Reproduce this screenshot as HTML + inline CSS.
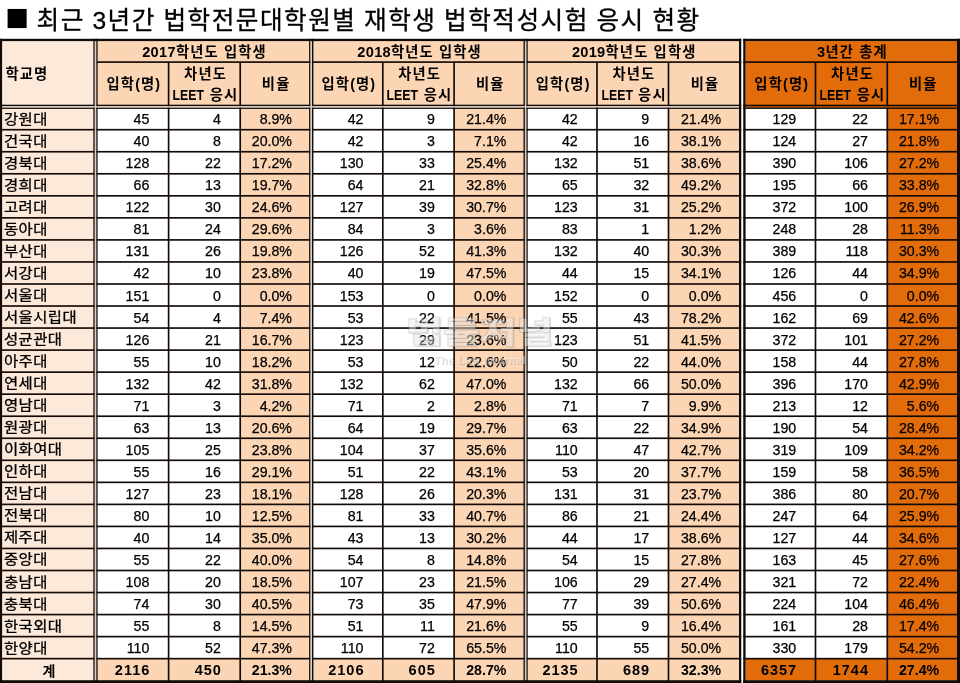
<!DOCTYPE html>
<html lang="ko"><head><meta charset="utf-8"><title>법학전문대학원별 재학생 법학적성시험 응시 현황</title>
<style>
html,body{margin:0;padding:0;background:#fff}
body{width:960px;height:683px;position:relative;overflow:hidden;font-family:"Liberation Sans","Noto Sans CJK KR",sans-serif;color:#000}
svg{position:absolute;left:0;top:0}
div{position:absolute;white-space:nowrap;box-sizing:border-box}
.title{-webkit-text-stroke:0.3px #000;font-size:24.6px;line-height:32px;height:32px;color:#000;letter-spacing:1.5px;word-spacing:-0.7px}
.sq{font-size:25px;line-height:32px;height:32px;color:#000;font-family:"DejaVu Sans",sans-serif}
.h{display:flex;align-items:center;justify-content:center;text-align:center;font-weight:bold;font-size:14.3px;line-height:21.2px;color:#000;letter-spacing:1.15px}
.h i{font-style:normal;letter-spacing:0;display:inline-block;transform:scaleX(0.86);margin:0 -2.4px}
.h b{font-size:14.6px;letter-spacing:0.3px}
.h span{display:block;position:relative;top:1.1px;left:1.2px}
.h1 span{top:0.6px}
.hl{justify-content:flex-start;padding-left:2.2px}
.hl span{top:1.0px}
.n{font-size:14.0px;line-height:22px;height:22px;color:#000;-webkit-text-stroke:0.3px #000;letter-spacing:0.4px;font-weight:400}
.n:not(.c){transform:scaleX(1.1);transform-origin:0 50%}
.c{text-align:center;margin-left:1.2px;margin-top:1.6px}
.d{font-size:14.2px;line-height:22px;height:22px;text-align:right;margin-top:0.5px;-webkit-text-stroke:0.25px #000}
.b{font-weight:bold;color:#000;-webkit-text-stroke:0}
.bn{letter-spacing:1.0px;font-size:14.5px}
.wm{left:405px;top:312px;width:150px;text-align:center;font-weight:900;font-size:30px;line-height:42px;letter-spacing:0;transform:scaleX(1.33);transform-origin:50% 50%;color:rgba(255,255,255,.4);-webkit-text-stroke:1.6px rgba(105,105,105,.2);paint-order:stroke fill;text-shadow:1px 1px 1px rgba(100,100,100,.12)}
.wm2{left:405px;top:353px;width:150px;text-align:center;font-weight:bold;font-size:10.5px;line-height:14px;letter-spacing:.6px;color:rgba(255,255,255,.4);text-shadow:1px 1px 0 rgba(100,100,100,.25)}
</style></head><body>
<svg width="960" height="683" viewBox="0 0 960 683" shape-rendering="auto">
<rect x="2.10" y="41.10" width="91.95" height="639.10" fill="#fde9d9"/>
<rect x="94.05" y="41.10" width="2.85" height="639.10" fill="#d6ccc4"/>
<rect x="309.80" y="41.10" width="2.90" height="639.10" fill="#d6ccc4"/>
<rect x="524.20" y="41.10" width="2.80" height="639.10" fill="#d6ccc4"/>
<rect x="96.90" y="41.10" width="212.90" height="64.30" fill="#fcd5b4"/>
<rect x="240.20" y="108.20" width="69.60" height="572.00" fill="#fcd5b4"/>
<rect x="96.90" y="658.66" width="212.90" height="21.54" fill="#fcd5b4"/>
<rect x="312.70" y="41.10" width="211.50" height="64.30" fill="#fcd5b4"/>
<rect x="454.10" y="108.20" width="70.10" height="572.00" fill="#fcd5b4"/>
<rect x="312.70" y="658.66" width="211.50" height="21.54" fill="#fcd5b4"/>
<rect x="527.00" y="41.10" width="212.00" height="64.30" fill="#fcd5b4"/>
<rect x="668.50" y="108.20" width="70.50" height="572.00" fill="#fcd5b4"/>
<rect x="527.00" y="658.66" width="212.00" height="21.54" fill="#fcd5b4"/>
<rect x="745.60" y="41.10" width="211.40" height="64.30" fill="#e26b0a"/>
<rect x="887.30" y="108.20" width="69.70" height="572.00" fill="#e26b0a"/>
<rect x="745.60" y="658.66" width="211.40" height="21.54" fill="#e26b0a"/>
<rect x="2.10" y="105.40" width="736.90" height="2.80" fill="#d6ccc4"/>
<rect x="745.60" y="105.40" width="211.40" height="2.80" fill="#9a4a12"/>
<rect x="0.00" y="128.88" width="741.25" height="1.65" fill="#120a06"/>
<rect x="743.25" y="128.88" width="216.75" height="1.65" fill="#120a06"/>
<rect x="0.00" y="150.92" width="741.25" height="1.65" fill="#120a06"/>
<rect x="743.25" y="150.92" width="216.75" height="1.65" fill="#120a06"/>
<rect x="0.00" y="172.96" width="741.25" height="1.65" fill="#120a06"/>
<rect x="743.25" y="172.96" width="216.75" height="1.65" fill="#120a06"/>
<rect x="0.00" y="195.00" width="741.25" height="1.65" fill="#120a06"/>
<rect x="743.25" y="195.00" width="216.75" height="1.65" fill="#120a06"/>
<rect x="0.00" y="217.03" width="741.25" height="1.65" fill="#120a06"/>
<rect x="743.25" y="217.03" width="216.75" height="1.65" fill="#120a06"/>
<rect x="0.00" y="239.08" width="741.25" height="1.65" fill="#120a06"/>
<rect x="743.25" y="239.08" width="216.75" height="1.65" fill="#120a06"/>
<rect x="0.00" y="261.12" width="741.25" height="1.65" fill="#120a06"/>
<rect x="743.25" y="261.12" width="216.75" height="1.65" fill="#120a06"/>
<rect x="0.00" y="283.16" width="741.25" height="1.65" fill="#120a06"/>
<rect x="743.25" y="283.16" width="216.75" height="1.65" fill="#120a06"/>
<rect x="0.00" y="305.19" width="741.25" height="1.65" fill="#120a06"/>
<rect x="743.25" y="305.19" width="216.75" height="1.65" fill="#120a06"/>
<rect x="0.00" y="327.23" width="741.25" height="1.65" fill="#120a06"/>
<rect x="743.25" y="327.23" width="216.75" height="1.65" fill="#120a06"/>
<rect x="0.00" y="349.28" width="741.25" height="1.65" fill="#120a06"/>
<rect x="743.25" y="349.28" width="216.75" height="1.65" fill="#120a06"/>
<rect x="0.00" y="371.31" width="741.25" height="1.65" fill="#120a06"/>
<rect x="743.25" y="371.31" width="216.75" height="1.65" fill="#120a06"/>
<rect x="0.00" y="393.35" width="741.25" height="1.65" fill="#120a06"/>
<rect x="743.25" y="393.35" width="216.75" height="1.65" fill="#120a06"/>
<rect x="0.00" y="415.40" width="741.25" height="1.65" fill="#120a06"/>
<rect x="743.25" y="415.40" width="216.75" height="1.65" fill="#120a06"/>
<rect x="0.00" y="437.44" width="741.25" height="1.65" fill="#120a06"/>
<rect x="743.25" y="437.44" width="216.75" height="1.65" fill="#120a06"/>
<rect x="0.00" y="459.47" width="741.25" height="1.65" fill="#120a06"/>
<rect x="743.25" y="459.47" width="216.75" height="1.65" fill="#120a06"/>
<rect x="0.00" y="481.52" width="741.25" height="1.65" fill="#120a06"/>
<rect x="743.25" y="481.52" width="216.75" height="1.65" fill="#120a06"/>
<rect x="0.00" y="503.56" width="741.25" height="1.65" fill="#120a06"/>
<rect x="743.25" y="503.56" width="216.75" height="1.65" fill="#120a06"/>
<rect x="0.00" y="525.59" width="741.25" height="1.65" fill="#120a06"/>
<rect x="743.25" y="525.59" width="216.75" height="1.65" fill="#120a06"/>
<rect x="0.00" y="547.63" width="741.25" height="1.65" fill="#120a06"/>
<rect x="743.25" y="547.63" width="216.75" height="1.65" fill="#120a06"/>
<rect x="0.00" y="569.67" width="741.25" height="1.65" fill="#120a06"/>
<rect x="743.25" y="569.67" width="216.75" height="1.65" fill="#120a06"/>
<rect x="0.00" y="591.71" width="741.25" height="1.65" fill="#120a06"/>
<rect x="743.25" y="591.71" width="216.75" height="1.65" fill="#120a06"/>
<rect x="0.00" y="613.75" width="741.25" height="1.65" fill="#120a06"/>
<rect x="743.25" y="613.75" width="216.75" height="1.65" fill="#120a06"/>
<rect x="0.00" y="635.79" width="741.25" height="1.65" fill="#120a06"/>
<rect x="743.25" y="635.79" width="216.75" height="1.65" fill="#120a06"/>
<rect x="0.00" y="657.83" width="741.25" height="1.65" fill="#120a06"/>
<rect x="743.25" y="657.83" width="216.75" height="1.65" fill="#120a06"/>
<rect x="0.00" y="104.70" width="741.25" height="1.40" fill="#120a06"/>
<rect x="743.25" y="104.70" width="216.75" height="1.40" fill="#120a06"/>
<rect x="0.00" y="107.50" width="741.25" height="1.40" fill="#120a06"/>
<rect x="743.25" y="107.50" width="216.75" height="1.40" fill="#120a06"/>
<rect x="96.90" y="61.27" width="644.35" height="1.65" fill="#120a06"/>
<rect x="743.25" y="61.27" width="216.75" height="1.65" fill="#120a06"/>
<rect x="167.78" y="62.10" width="1.65" height="620.90" fill="#120a06"/>
<rect x="239.38" y="62.10" width="1.65" height="620.90" fill="#120a06"/>
<rect x="381.98" y="62.10" width="1.65" height="620.90" fill="#120a06"/>
<rect x="453.28" y="62.10" width="1.65" height="620.90" fill="#120a06"/>
<rect x="596.17" y="62.10" width="1.65" height="620.90" fill="#120a06"/>
<rect x="667.67" y="62.10" width="1.65" height="620.90" fill="#120a06"/>
<rect x="814.67" y="62.10" width="1.65" height="620.90" fill="#120a06"/>
<rect x="886.47" y="62.10" width="1.65" height="620.90" fill="#120a06"/>
<rect x="93.35" y="38.80" width="1.40" height="644.20" fill="#120a06"/>
<rect x="96.20" y="38.80" width="1.40" height="644.20" fill="#120a06"/>
<rect x="309.10" y="38.80" width="1.40" height="644.20" fill="#120a06"/>
<rect x="312.00" y="38.80" width="1.40" height="644.20" fill="#120a06"/>
<rect x="523.50" y="38.80" width="1.40" height="644.20" fill="#120a06"/>
<rect x="526.30" y="38.80" width="1.40" height="644.20" fill="#120a06"/>
<rect x="94.75" y="41.10" width="1.45" height="639.10" fill="#d6ccc4"/>
<rect x="310.50" y="41.10" width="1.50" height="639.10" fill="#d6ccc4"/>
<rect x="524.90" y="41.10" width="1.40" height="639.10" fill="#d6ccc4"/>
<rect x="2.10" y="106.10" width="736.90" height="1.40" fill="#d6ccc4"/>
<rect x="745.60" y="106.10" width="211.40" height="1.40" fill="#9a4a12"/>
<rect x="0.00" y="38.80" width="2.10" height="644.20" fill="#120a06"/>
<rect x="739.00" y="38.80" width="2.25" height="644.20" fill="#120a06"/>
<rect x="743.25" y="38.80" width="2.35" height="644.20" fill="#120a06"/>
<rect x="957.00" y="38.80" width="3.00" height="644.20" fill="#120a06"/>
<rect x="0.00" y="38.80" width="741.25" height="2.30" fill="#120a06"/>
<rect x="743.25" y="38.80" width="216.75" height="2.30" fill="#120a06"/>
<rect x="0.00" y="680.20" width="741.25" height="2.80" fill="#120a06"/>
<rect x="743.25" y="680.20" width="216.75" height="2.80" fill="#120a06"/>
</svg>
<div class="sq" style="left:5.5px;top:1.0px">■</div>
<div class="title" style="left:36.5px;top:4.7px">최근 3년간 법학전문대학원별 재학생 법학적성시험 응시 현황</div>
<div class="h hl" style="left:2.1px;top:41.1px;width:91.95px;height:64.30000000000001px"><span>학교명</span></div>
<div class="h h1" style="left:96.9px;top:41.1px;width:212.90px;height:21.00px"><span><b>2017</b>학년도 입학생</span></div>
<div class="h" style="left:96.9px;top:62.1px;width:71.70px;height:43.30px"><span>입학(명)</span></div>
<div class="h h2" style="left:168.6px;top:62.1px;width:71.60px;height:43.30px"><span>차년도<br><i>LEET</i> 응시</span></div>
<div class="h" style="left:240.2px;top:62.1px;width:69.60px;height:43.30px"><span>비율</span></div>
<div class="h h1" style="left:312.7px;top:41.1px;width:211.50px;height:21.00px"><span><b>2018</b>학년도 입학생</span></div>
<div class="h" style="left:312.7px;top:62.1px;width:70.10px;height:43.30px"><span>입학(명)</span></div>
<div class="h h2" style="left:382.8px;top:62.1px;width:71.30px;height:43.30px"><span>차년도<br><i>LEET</i> 응시</span></div>
<div class="h" style="left:454.1px;top:62.1px;width:70.10px;height:43.30px"><span>비율</span></div>
<div class="h h1" style="left:527.0px;top:41.1px;width:212.00px;height:21.00px"><span><b>2019</b>학년도 입학생</span></div>
<div class="h" style="left:527.0px;top:62.1px;width:70.00px;height:43.30px"><span>입학(명)</span></div>
<div class="h h2" style="left:597.0px;top:62.1px;width:71.50px;height:43.30px"><span>차년도<br><i>LEET</i> 응시</span></div>
<div class="h" style="left:668.5px;top:62.1px;width:70.50px;height:43.30px"><span>비율</span></div>
<div class="h h1" style="left:745.6px;top:41.1px;width:211.40px;height:21.00px"><span><b>3</b>년간 총계</span></div>
<div class="h" style="left:745.6px;top:62.1px;width:69.90px;height:43.30px"><span>입학(명)</span></div>
<div class="h h2" style="left:815.5px;top:62.1px;width:71.80px;height:43.30px"><span>차년도<br><i>LEET</i> 응시</span></div>
<div class="h" style="left:887.3px;top:62.1px;width:69.70px;height:43.30px"><span>비율</span></div>
<div class="n" style="left:4.0px;top:107.95px">강원대</div>
<div class="d " style="left:96.9px;width:52.40px;top:107.95px">45</div>
<div class="d " style="left:168.6px;width:52.30px;top:107.95px">4</div>
<div class="d " style="left:240.2px;width:51.80px;top:107.95px">8.9%</div>
<div class="d " style="left:312.7px;width:50.80px;top:107.95px">42</div>
<div class="d " style="left:382.8px;width:52.00px;top:107.95px">9</div>
<div class="d " style="left:454.1px;width:52.30px;top:107.95px">21.4%</div>
<div class="d " style="left:527.0px;width:50.70px;top:107.95px">42</div>
<div class="d " style="left:597.0px;width:52.20px;top:107.95px">9</div>
<div class="d " style="left:668.5px;width:52.70px;top:107.95px">21.4%</div>
<div class="d " style="left:745.6px;width:50.60px;top:107.95px">129</div>
<div class="d " style="left:815.5px;width:52.50px;top:107.95px">22</div>
<div class="d " style="left:887.3px;width:51.90px;top:107.95px">17.1%</div>
<div class="n" style="left:4.0px;top:129.72px">건국대</div>
<div class="d " style="left:96.9px;width:52.40px;top:129.72px">40</div>
<div class="d " style="left:168.6px;width:52.30px;top:129.72px">8</div>
<div class="d " style="left:240.2px;width:51.80px;top:129.72px">20.0%</div>
<div class="d " style="left:312.7px;width:50.80px;top:129.72px">42</div>
<div class="d " style="left:382.8px;width:52.00px;top:129.72px">3</div>
<div class="d " style="left:454.1px;width:52.30px;top:129.72px">7.1%</div>
<div class="d " style="left:527.0px;width:50.70px;top:129.72px">42</div>
<div class="d " style="left:597.0px;width:52.20px;top:129.72px">16</div>
<div class="d " style="left:668.5px;width:52.70px;top:129.72px">38.1%</div>
<div class="d " style="left:745.6px;width:50.60px;top:129.72px">124</div>
<div class="d " style="left:815.5px;width:52.50px;top:129.72px">27</div>
<div class="d " style="left:887.3px;width:51.90px;top:129.72px">21.8%</div>
<div class="n" style="left:4.0px;top:151.76px">경북대</div>
<div class="d " style="left:96.9px;width:52.40px;top:151.76px">128</div>
<div class="d " style="left:168.6px;width:52.30px;top:151.76px">22</div>
<div class="d " style="left:240.2px;width:51.80px;top:151.76px">17.2%</div>
<div class="d " style="left:312.7px;width:50.80px;top:151.76px">130</div>
<div class="d " style="left:382.8px;width:52.00px;top:151.76px">33</div>
<div class="d " style="left:454.1px;width:52.30px;top:151.76px">25.4%</div>
<div class="d " style="left:527.0px;width:50.70px;top:151.76px">132</div>
<div class="d " style="left:597.0px;width:52.20px;top:151.76px">51</div>
<div class="d " style="left:668.5px;width:52.70px;top:151.76px">38.6%</div>
<div class="d " style="left:745.6px;width:50.60px;top:151.76px">390</div>
<div class="d " style="left:815.5px;width:52.50px;top:151.76px">106</div>
<div class="d " style="left:887.3px;width:51.90px;top:151.76px">27.2%</div>
<div class="n" style="left:4.0px;top:173.80px">경희대</div>
<div class="d " style="left:96.9px;width:52.40px;top:173.80px">66</div>
<div class="d " style="left:168.6px;width:52.30px;top:173.80px">13</div>
<div class="d " style="left:240.2px;width:51.80px;top:173.80px">19.7%</div>
<div class="d " style="left:312.7px;width:50.80px;top:173.80px">64</div>
<div class="d " style="left:382.8px;width:52.00px;top:173.80px">21</div>
<div class="d " style="left:454.1px;width:52.30px;top:173.80px">32.8%</div>
<div class="d " style="left:527.0px;width:50.70px;top:173.80px">65</div>
<div class="d " style="left:597.0px;width:52.20px;top:173.80px">32</div>
<div class="d " style="left:668.5px;width:52.70px;top:173.80px">49.2%</div>
<div class="d " style="left:745.6px;width:50.60px;top:173.80px">195</div>
<div class="d " style="left:815.5px;width:52.50px;top:173.80px">66</div>
<div class="d " style="left:887.3px;width:51.90px;top:173.80px">33.8%</div>
<div class="n" style="left:4.0px;top:195.84px">고려대</div>
<div class="d " style="left:96.9px;width:52.40px;top:195.84px">122</div>
<div class="d " style="left:168.6px;width:52.30px;top:195.84px">30</div>
<div class="d " style="left:240.2px;width:51.80px;top:195.84px">24.6%</div>
<div class="d " style="left:312.7px;width:50.80px;top:195.84px">127</div>
<div class="d " style="left:382.8px;width:52.00px;top:195.84px">39</div>
<div class="d " style="left:454.1px;width:52.30px;top:195.84px">30.7%</div>
<div class="d " style="left:527.0px;width:50.70px;top:195.84px">123</div>
<div class="d " style="left:597.0px;width:52.20px;top:195.84px">31</div>
<div class="d " style="left:668.5px;width:52.70px;top:195.84px">25.2%</div>
<div class="d " style="left:745.6px;width:50.60px;top:195.84px">372</div>
<div class="d " style="left:815.5px;width:52.50px;top:195.84px">100</div>
<div class="d " style="left:887.3px;width:51.90px;top:195.84px">26.9%</div>
<div class="n" style="left:4.0px;top:217.88px">동아대</div>
<div class="d " style="left:96.9px;width:52.40px;top:217.88px">81</div>
<div class="d " style="left:168.6px;width:52.30px;top:217.88px">24</div>
<div class="d " style="left:240.2px;width:51.80px;top:217.88px">29.6%</div>
<div class="d " style="left:312.7px;width:50.80px;top:217.88px">84</div>
<div class="d " style="left:382.8px;width:52.00px;top:217.88px">3</div>
<div class="d " style="left:454.1px;width:52.30px;top:217.88px">3.6%</div>
<div class="d " style="left:527.0px;width:50.70px;top:217.88px">83</div>
<div class="d " style="left:597.0px;width:52.20px;top:217.88px">1</div>
<div class="d " style="left:668.5px;width:52.70px;top:217.88px">1.2%</div>
<div class="d " style="left:745.6px;width:50.60px;top:217.88px">248</div>
<div class="d " style="left:815.5px;width:52.50px;top:217.88px">28</div>
<div class="d " style="left:887.3px;width:51.90px;top:217.88px">11.3%</div>
<div class="n" style="left:4.0px;top:239.92px">부산대</div>
<div class="d " style="left:96.9px;width:52.40px;top:239.92px">131</div>
<div class="d " style="left:168.6px;width:52.30px;top:239.92px">26</div>
<div class="d " style="left:240.2px;width:51.80px;top:239.92px">19.8%</div>
<div class="d " style="left:312.7px;width:50.80px;top:239.92px">126</div>
<div class="d " style="left:382.8px;width:52.00px;top:239.92px">52</div>
<div class="d " style="left:454.1px;width:52.30px;top:239.92px">41.3%</div>
<div class="d " style="left:527.0px;width:50.70px;top:239.92px">132</div>
<div class="d " style="left:597.0px;width:52.20px;top:239.92px">40</div>
<div class="d " style="left:668.5px;width:52.70px;top:239.92px">30.3%</div>
<div class="d " style="left:745.6px;width:50.60px;top:239.92px">389</div>
<div class="d " style="left:815.5px;width:52.50px;top:239.92px">118</div>
<div class="d " style="left:887.3px;width:51.90px;top:239.92px">30.3%</div>
<div class="n" style="left:4.0px;top:261.96px">서강대</div>
<div class="d " style="left:96.9px;width:52.40px;top:261.96px">42</div>
<div class="d " style="left:168.6px;width:52.30px;top:261.96px">10</div>
<div class="d " style="left:240.2px;width:51.80px;top:261.96px">23.8%</div>
<div class="d " style="left:312.7px;width:50.80px;top:261.96px">40</div>
<div class="d " style="left:382.8px;width:52.00px;top:261.96px">19</div>
<div class="d " style="left:454.1px;width:52.30px;top:261.96px">47.5%</div>
<div class="d " style="left:527.0px;width:50.70px;top:261.96px">44</div>
<div class="d " style="left:597.0px;width:52.20px;top:261.96px">15</div>
<div class="d " style="left:668.5px;width:52.70px;top:261.96px">34.1%</div>
<div class="d " style="left:745.6px;width:50.60px;top:261.96px">126</div>
<div class="d " style="left:815.5px;width:52.50px;top:261.96px">44</div>
<div class="d " style="left:887.3px;width:51.90px;top:261.96px">34.9%</div>
<div class="n" style="left:4.0px;top:284.00px">서울대</div>
<div class="d " style="left:96.9px;width:52.40px;top:284.00px">151</div>
<div class="d " style="left:168.6px;width:52.30px;top:284.00px">0</div>
<div class="d " style="left:240.2px;width:51.80px;top:284.00px">0.0%</div>
<div class="d " style="left:312.7px;width:50.80px;top:284.00px">153</div>
<div class="d " style="left:382.8px;width:52.00px;top:284.00px">0</div>
<div class="d " style="left:454.1px;width:52.30px;top:284.00px">0.0%</div>
<div class="d " style="left:527.0px;width:50.70px;top:284.00px">152</div>
<div class="d " style="left:597.0px;width:52.20px;top:284.00px">0</div>
<div class="d " style="left:668.5px;width:52.70px;top:284.00px">0.0%</div>
<div class="d " style="left:745.6px;width:50.60px;top:284.00px">456</div>
<div class="d " style="left:815.5px;width:52.50px;top:284.00px">0</div>
<div class="d " style="left:887.3px;width:51.90px;top:284.00px">0.0%</div>
<div class="n" style="left:4.0px;top:306.04px">서울시립대</div>
<div class="d " style="left:96.9px;width:52.40px;top:306.04px">54</div>
<div class="d " style="left:168.6px;width:52.30px;top:306.04px">4</div>
<div class="d " style="left:240.2px;width:51.80px;top:306.04px">7.4%</div>
<div class="d " style="left:312.7px;width:50.80px;top:306.04px">53</div>
<div class="d " style="left:382.8px;width:52.00px;top:306.04px">22</div>
<div class="d " style="left:454.1px;width:52.30px;top:306.04px">41.5%</div>
<div class="d " style="left:527.0px;width:50.70px;top:306.04px">55</div>
<div class="d " style="left:597.0px;width:52.20px;top:306.04px">43</div>
<div class="d " style="left:668.5px;width:52.70px;top:306.04px">78.2%</div>
<div class="d " style="left:745.6px;width:50.60px;top:306.04px">162</div>
<div class="d " style="left:815.5px;width:52.50px;top:306.04px">69</div>
<div class="d " style="left:887.3px;width:51.90px;top:306.04px">42.6%</div>
<div class="n" style="left:4.0px;top:328.08px">성균관대</div>
<div class="d " style="left:96.9px;width:52.40px;top:328.08px">126</div>
<div class="d " style="left:168.6px;width:52.30px;top:328.08px">21</div>
<div class="d " style="left:240.2px;width:51.80px;top:328.08px">16.7%</div>
<div class="d " style="left:312.7px;width:50.80px;top:328.08px">123</div>
<div class="d " style="left:382.8px;width:52.00px;top:328.08px">29</div>
<div class="d " style="left:454.1px;width:52.30px;top:328.08px">23.6%</div>
<div class="d " style="left:527.0px;width:50.70px;top:328.08px">123</div>
<div class="d " style="left:597.0px;width:52.20px;top:328.08px">51</div>
<div class="d " style="left:668.5px;width:52.70px;top:328.08px">41.5%</div>
<div class="d " style="left:745.6px;width:50.60px;top:328.08px">372</div>
<div class="d " style="left:815.5px;width:52.50px;top:328.08px">101</div>
<div class="d " style="left:887.3px;width:51.90px;top:328.08px">27.2%</div>
<div class="n" style="left:4.0px;top:350.12px">아주대</div>
<div class="d " style="left:96.9px;width:52.40px;top:350.12px">55</div>
<div class="d " style="left:168.6px;width:52.30px;top:350.12px">10</div>
<div class="d " style="left:240.2px;width:51.80px;top:350.12px">18.2%</div>
<div class="d " style="left:312.7px;width:50.80px;top:350.12px">53</div>
<div class="d " style="left:382.8px;width:52.00px;top:350.12px">12</div>
<div class="d " style="left:454.1px;width:52.30px;top:350.12px">22.6%</div>
<div class="d " style="left:527.0px;width:50.70px;top:350.12px">50</div>
<div class="d " style="left:597.0px;width:52.20px;top:350.12px">22</div>
<div class="d " style="left:668.5px;width:52.70px;top:350.12px">44.0%</div>
<div class="d " style="left:745.6px;width:50.60px;top:350.12px">158</div>
<div class="d " style="left:815.5px;width:52.50px;top:350.12px">44</div>
<div class="d " style="left:887.3px;width:51.90px;top:350.12px">27.8%</div>
<div class="n" style="left:4.0px;top:372.16px">연세대</div>
<div class="d " style="left:96.9px;width:52.40px;top:372.16px">132</div>
<div class="d " style="left:168.6px;width:52.30px;top:372.16px">42</div>
<div class="d " style="left:240.2px;width:51.80px;top:372.16px">31.8%</div>
<div class="d " style="left:312.7px;width:50.80px;top:372.16px">132</div>
<div class="d " style="left:382.8px;width:52.00px;top:372.16px">62</div>
<div class="d " style="left:454.1px;width:52.30px;top:372.16px">47.0%</div>
<div class="d " style="left:527.0px;width:50.70px;top:372.16px">132</div>
<div class="d " style="left:597.0px;width:52.20px;top:372.16px">66</div>
<div class="d " style="left:668.5px;width:52.70px;top:372.16px">50.0%</div>
<div class="d " style="left:745.6px;width:50.60px;top:372.16px">396</div>
<div class="d " style="left:815.5px;width:52.50px;top:372.16px">170</div>
<div class="d " style="left:887.3px;width:51.90px;top:372.16px">42.9%</div>
<div class="n" style="left:4.0px;top:394.20px">영남대</div>
<div class="d " style="left:96.9px;width:52.40px;top:394.20px">71</div>
<div class="d " style="left:168.6px;width:52.30px;top:394.20px">3</div>
<div class="d " style="left:240.2px;width:51.80px;top:394.20px">4.2%</div>
<div class="d " style="left:312.7px;width:50.80px;top:394.20px">71</div>
<div class="d " style="left:382.8px;width:52.00px;top:394.20px">2</div>
<div class="d " style="left:454.1px;width:52.30px;top:394.20px">2.8%</div>
<div class="d " style="left:527.0px;width:50.70px;top:394.20px">71</div>
<div class="d " style="left:597.0px;width:52.20px;top:394.20px">7</div>
<div class="d " style="left:668.5px;width:52.70px;top:394.20px">9.9%</div>
<div class="d " style="left:745.6px;width:50.60px;top:394.20px">213</div>
<div class="d " style="left:815.5px;width:52.50px;top:394.20px">12</div>
<div class="d " style="left:887.3px;width:51.90px;top:394.20px">5.6%</div>
<div class="n" style="left:4.0px;top:416.24px">원광대</div>
<div class="d " style="left:96.9px;width:52.40px;top:416.24px">63</div>
<div class="d " style="left:168.6px;width:52.30px;top:416.24px">13</div>
<div class="d " style="left:240.2px;width:51.80px;top:416.24px">20.6%</div>
<div class="d " style="left:312.7px;width:50.80px;top:416.24px">64</div>
<div class="d " style="left:382.8px;width:52.00px;top:416.24px">19</div>
<div class="d " style="left:454.1px;width:52.30px;top:416.24px">29.7%</div>
<div class="d " style="left:527.0px;width:50.70px;top:416.24px">63</div>
<div class="d " style="left:597.0px;width:52.20px;top:416.24px">22</div>
<div class="d " style="left:668.5px;width:52.70px;top:416.24px">34.9%</div>
<div class="d " style="left:745.6px;width:50.60px;top:416.24px">190</div>
<div class="d " style="left:815.5px;width:52.50px;top:416.24px">54</div>
<div class="d " style="left:887.3px;width:51.90px;top:416.24px">28.4%</div>
<div class="n" style="left:4.0px;top:438.28px">이화여대</div>
<div class="d " style="left:96.9px;width:52.40px;top:438.28px">105</div>
<div class="d " style="left:168.6px;width:52.30px;top:438.28px">25</div>
<div class="d " style="left:240.2px;width:51.80px;top:438.28px">23.8%</div>
<div class="d " style="left:312.7px;width:50.80px;top:438.28px">104</div>
<div class="d " style="left:382.8px;width:52.00px;top:438.28px">37</div>
<div class="d " style="left:454.1px;width:52.30px;top:438.28px">35.6%</div>
<div class="d " style="left:527.0px;width:50.70px;top:438.28px">110</div>
<div class="d " style="left:597.0px;width:52.20px;top:438.28px">47</div>
<div class="d " style="left:668.5px;width:52.70px;top:438.28px">42.7%</div>
<div class="d " style="left:745.6px;width:50.60px;top:438.28px">319</div>
<div class="d " style="left:815.5px;width:52.50px;top:438.28px">109</div>
<div class="d " style="left:887.3px;width:51.90px;top:438.28px">34.2%</div>
<div class="n" style="left:4.0px;top:460.32px">인하대</div>
<div class="d " style="left:96.9px;width:52.40px;top:460.32px">55</div>
<div class="d " style="left:168.6px;width:52.30px;top:460.32px">16</div>
<div class="d " style="left:240.2px;width:51.80px;top:460.32px">29.1%</div>
<div class="d " style="left:312.7px;width:50.80px;top:460.32px">51</div>
<div class="d " style="left:382.8px;width:52.00px;top:460.32px">22</div>
<div class="d " style="left:454.1px;width:52.30px;top:460.32px">43.1%</div>
<div class="d " style="left:527.0px;width:50.70px;top:460.32px">53</div>
<div class="d " style="left:597.0px;width:52.20px;top:460.32px">20</div>
<div class="d " style="left:668.5px;width:52.70px;top:460.32px">37.7%</div>
<div class="d " style="left:745.6px;width:50.60px;top:460.32px">159</div>
<div class="d " style="left:815.5px;width:52.50px;top:460.32px">58</div>
<div class="d " style="left:887.3px;width:51.90px;top:460.32px">36.5%</div>
<div class="n" style="left:4.0px;top:482.36px">전남대</div>
<div class="d " style="left:96.9px;width:52.40px;top:482.36px">127</div>
<div class="d " style="left:168.6px;width:52.30px;top:482.36px">23</div>
<div class="d " style="left:240.2px;width:51.80px;top:482.36px">18.1%</div>
<div class="d " style="left:312.7px;width:50.80px;top:482.36px">128</div>
<div class="d " style="left:382.8px;width:52.00px;top:482.36px">26</div>
<div class="d " style="left:454.1px;width:52.30px;top:482.36px">20.3%</div>
<div class="d " style="left:527.0px;width:50.70px;top:482.36px">131</div>
<div class="d " style="left:597.0px;width:52.20px;top:482.36px">31</div>
<div class="d " style="left:668.5px;width:52.70px;top:482.36px">23.7%</div>
<div class="d " style="left:745.6px;width:50.60px;top:482.36px">386</div>
<div class="d " style="left:815.5px;width:52.50px;top:482.36px">80</div>
<div class="d " style="left:887.3px;width:51.90px;top:482.36px">20.7%</div>
<div class="n" style="left:4.0px;top:504.40px">전북대</div>
<div class="d " style="left:96.9px;width:52.40px;top:504.40px">80</div>
<div class="d " style="left:168.6px;width:52.30px;top:504.40px">10</div>
<div class="d " style="left:240.2px;width:51.80px;top:504.40px">12.5%</div>
<div class="d " style="left:312.7px;width:50.80px;top:504.40px">81</div>
<div class="d " style="left:382.8px;width:52.00px;top:504.40px">33</div>
<div class="d " style="left:454.1px;width:52.30px;top:504.40px">40.7%</div>
<div class="d " style="left:527.0px;width:50.70px;top:504.40px">86</div>
<div class="d " style="left:597.0px;width:52.20px;top:504.40px">21</div>
<div class="d " style="left:668.5px;width:52.70px;top:504.40px">24.4%</div>
<div class="d " style="left:745.6px;width:50.60px;top:504.40px">247</div>
<div class="d " style="left:815.5px;width:52.50px;top:504.40px">64</div>
<div class="d " style="left:887.3px;width:51.90px;top:504.40px">25.9%</div>
<div class="n" style="left:4.0px;top:526.44px">제주대</div>
<div class="d " style="left:96.9px;width:52.40px;top:526.44px">40</div>
<div class="d " style="left:168.6px;width:52.30px;top:526.44px">14</div>
<div class="d " style="left:240.2px;width:51.80px;top:526.44px">35.0%</div>
<div class="d " style="left:312.7px;width:50.80px;top:526.44px">43</div>
<div class="d " style="left:382.8px;width:52.00px;top:526.44px">13</div>
<div class="d " style="left:454.1px;width:52.30px;top:526.44px">30.2%</div>
<div class="d " style="left:527.0px;width:50.70px;top:526.44px">44</div>
<div class="d " style="left:597.0px;width:52.20px;top:526.44px">17</div>
<div class="d " style="left:668.5px;width:52.70px;top:526.44px">38.6%</div>
<div class="d " style="left:745.6px;width:50.60px;top:526.44px">127</div>
<div class="d " style="left:815.5px;width:52.50px;top:526.44px">44</div>
<div class="d " style="left:887.3px;width:51.90px;top:526.44px">34.6%</div>
<div class="n" style="left:4.0px;top:548.48px">중앙대</div>
<div class="d " style="left:96.9px;width:52.40px;top:548.48px">55</div>
<div class="d " style="left:168.6px;width:52.30px;top:548.48px">22</div>
<div class="d " style="left:240.2px;width:51.80px;top:548.48px">40.0%</div>
<div class="d " style="left:312.7px;width:50.80px;top:548.48px">54</div>
<div class="d " style="left:382.8px;width:52.00px;top:548.48px">8</div>
<div class="d " style="left:454.1px;width:52.30px;top:548.48px">14.8%</div>
<div class="d " style="left:527.0px;width:50.70px;top:548.48px">54</div>
<div class="d " style="left:597.0px;width:52.20px;top:548.48px">15</div>
<div class="d " style="left:668.5px;width:52.70px;top:548.48px">27.8%</div>
<div class="d " style="left:745.6px;width:50.60px;top:548.48px">163</div>
<div class="d " style="left:815.5px;width:52.50px;top:548.48px">45</div>
<div class="d " style="left:887.3px;width:51.90px;top:548.48px">27.6%</div>
<div class="n" style="left:4.0px;top:570.52px">충남대</div>
<div class="d " style="left:96.9px;width:52.40px;top:570.52px">108</div>
<div class="d " style="left:168.6px;width:52.30px;top:570.52px">20</div>
<div class="d " style="left:240.2px;width:51.80px;top:570.52px">18.5%</div>
<div class="d " style="left:312.7px;width:50.80px;top:570.52px">107</div>
<div class="d " style="left:382.8px;width:52.00px;top:570.52px">23</div>
<div class="d " style="left:454.1px;width:52.30px;top:570.52px">21.5%</div>
<div class="d " style="left:527.0px;width:50.70px;top:570.52px">106</div>
<div class="d " style="left:597.0px;width:52.20px;top:570.52px">29</div>
<div class="d " style="left:668.5px;width:52.70px;top:570.52px">27.4%</div>
<div class="d " style="left:745.6px;width:50.60px;top:570.52px">321</div>
<div class="d " style="left:815.5px;width:52.50px;top:570.52px">72</div>
<div class="d " style="left:887.3px;width:51.90px;top:570.52px">22.4%</div>
<div class="n" style="left:4.0px;top:592.56px">충북대</div>
<div class="d " style="left:96.9px;width:52.40px;top:592.56px">74</div>
<div class="d " style="left:168.6px;width:52.30px;top:592.56px">30</div>
<div class="d " style="left:240.2px;width:51.80px;top:592.56px">40.5%</div>
<div class="d " style="left:312.7px;width:50.80px;top:592.56px">73</div>
<div class="d " style="left:382.8px;width:52.00px;top:592.56px">35</div>
<div class="d " style="left:454.1px;width:52.30px;top:592.56px">47.9%</div>
<div class="d " style="left:527.0px;width:50.70px;top:592.56px">77</div>
<div class="d " style="left:597.0px;width:52.20px;top:592.56px">39</div>
<div class="d " style="left:668.5px;width:52.70px;top:592.56px">50.6%</div>
<div class="d " style="left:745.6px;width:50.60px;top:592.56px">224</div>
<div class="d " style="left:815.5px;width:52.50px;top:592.56px">104</div>
<div class="d " style="left:887.3px;width:51.90px;top:592.56px">46.4%</div>
<div class="n" style="left:4.0px;top:614.60px">한국외대</div>
<div class="d " style="left:96.9px;width:52.40px;top:614.60px">55</div>
<div class="d " style="left:168.6px;width:52.30px;top:614.60px">8</div>
<div class="d " style="left:240.2px;width:51.80px;top:614.60px">14.5%</div>
<div class="d " style="left:312.7px;width:50.80px;top:614.60px">51</div>
<div class="d " style="left:382.8px;width:52.00px;top:614.60px">11</div>
<div class="d " style="left:454.1px;width:52.30px;top:614.60px">21.6%</div>
<div class="d " style="left:527.0px;width:50.70px;top:614.60px">55</div>
<div class="d " style="left:597.0px;width:52.20px;top:614.60px">9</div>
<div class="d " style="left:668.5px;width:52.70px;top:614.60px">16.4%</div>
<div class="d " style="left:745.6px;width:50.60px;top:614.60px">161</div>
<div class="d " style="left:815.5px;width:52.50px;top:614.60px">28</div>
<div class="d " style="left:887.3px;width:51.90px;top:614.60px">17.4%</div>
<div class="n" style="left:4.0px;top:636.64px">한양대</div>
<div class="d " style="left:96.9px;width:52.40px;top:636.64px">110</div>
<div class="d " style="left:168.6px;width:52.30px;top:636.64px">52</div>
<div class="d " style="left:240.2px;width:51.80px;top:636.64px">47.3%</div>
<div class="d " style="left:312.7px;width:50.80px;top:636.64px">110</div>
<div class="d " style="left:382.8px;width:52.00px;top:636.64px">72</div>
<div class="d " style="left:454.1px;width:52.30px;top:636.64px">65.5%</div>
<div class="d " style="left:527.0px;width:50.70px;top:636.64px">110</div>
<div class="d " style="left:597.0px;width:52.20px;top:636.64px">55</div>
<div class="d " style="left:668.5px;width:52.70px;top:636.64px">50.0%</div>
<div class="d " style="left:745.6px;width:50.60px;top:636.64px">330</div>
<div class="d " style="left:815.5px;width:52.50px;top:636.64px">179</div>
<div class="d " style="left:887.3px;width:51.90px;top:636.64px">54.2%</div>
<div class="n c b" style="left:2.1px;width:91.95px;top:658.43px">계</div>
<div class="d b bn" style="left:97.9px;width:52.40px;top:658.43px">2116</div>
<div class="d b bn" style="left:169.6px;width:52.30px;top:658.43px">450</div>
<div class="d b" style="left:240.2px;width:51.80px;top:658.43px">21.3%</div>
<div class="d b bn" style="left:313.7px;width:50.80px;top:658.43px">2106</div>
<div class="d b bn" style="left:383.8px;width:52.00px;top:658.43px">605</div>
<div class="d b" style="left:454.1px;width:52.30px;top:658.43px">28.7%</div>
<div class="d b bn" style="left:528.0px;width:50.70px;top:658.43px">2135</div>
<div class="d b bn" style="left:598.0px;width:52.20px;top:658.43px">689</div>
<div class="d b" style="left:668.5px;width:52.70px;top:658.43px">32.3%</div>
<div class="d b bn" style="left:746.6px;width:50.60px;top:658.43px">6357</div>
<div class="d b bn" style="left:816.5px;width:52.50px;top:658.43px">1744</div>
<div class="d b" style="left:887.3px;width:51.90px;top:658.43px">27.4%</div>
<div class="wm">법률저널</div>
<div class="wm2">The Law Journal</div>
</body></html>
